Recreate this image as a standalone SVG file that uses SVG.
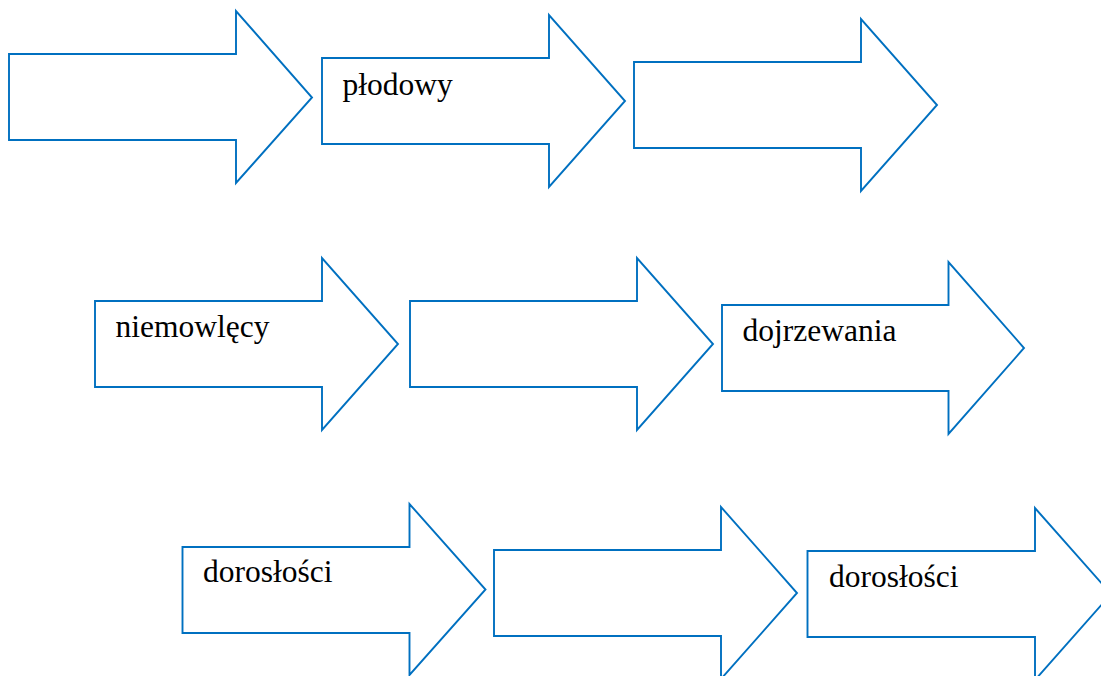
<svg xmlns="http://www.w3.org/2000/svg" width="1101" height="676" viewBox="0 0 1101 676">
<style>
.a{fill:#fff;stroke:#0070C0;stroke-width:1.9;stroke-linejoin:miter}
.t{font-family:"Liberation Serif","Times New Roman",serif;font-size:31.5px;fill:#000}
</style>
<rect width="1101" height="676" fill="#fff"/>
<g id="a1"><path class="a" d="M9,54 H236 V11 L312,97.5 L236,183 V140 H9 Z"/></g>
<g id="a2"><path class="a" d="M322,58 H549 V15 L625,101 L549,187 V144 H322 Z"/><text class="t" x="342.5" y="95">płodowy</text></g>
<g id="a3"><path class="a" d="M634,62 H861 V19 L937,105 L861,191 V148 H634 Z"/></g>
<g id="a4"><path class="a" d="M95,301 H322 V258 L398,344 L322,430 V387 H95 Z"/><text class="t" x="115.5" y="336.5">niemowlęcy</text></g>
<g id="a5"><path class="a" d="M410,301 H637 V258 L713,344 L637,430 V387 H410 Z"/></g>
<g id="a6"><path class="a" d="M722,305 H948.5 V262 L1024,348 L948.5,434 V391 H722 Z"/><text class="t" x="742.5" y="341">dojrzewania</text></g>
<g id="a7"><path class="a" d="M182.5,547 H409.5 V504 L485.5,589.5 L409.5,675 V633 H182.5 Z"/><text class="t" x="203" y="581.5">dorosłości</text></g>
<g id="a8"><path class="a" d="M494,550 H721 V507 L797,593 L721,679 V636 H494 Z"/></g>
<g id="a9"><path class="a" d="M807.5,551 H1035 V508 L1111,594 L1035,680 V637 H807.5 Z"/><text class="t" x="829" y="586.5">dorosłości</text></g>
<g id="connectors"></g>
</svg>
